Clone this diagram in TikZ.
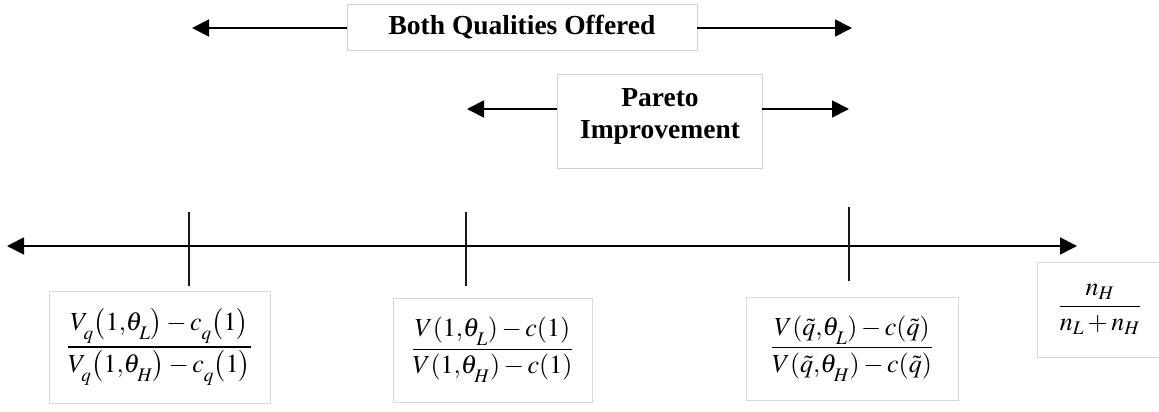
\documentclass[tikz,border=0pt]{standalone}
\usepackage{amsmath}
\usepackage{mathptmx}
\usepackage{fontspec}
\setmainfont{Liberation Serif}
\usetikzlibrary{arrows.meta}
\newcommand{\dn}[1]{_{\raisebox{-5pt}{$\scriptstyle #1$}}}
\begin{document}
\begin{tikzpicture}[x=1pt,y=-1pt,
  lbl/.style={draw=black!18, line width=0.8pt, fill=white, inner sep=0pt,
    font=\fontsize{27.5}{32}\selectfont\bfseries},
  plain/.style={inner sep=0pt, font=\fontsize{27.5}{32}\selectfont\bfseries},
  fbox/.style={draw=black!15, line width=0.8pt, fill=white, inner sep=0pt,
    font=\fontsize{26}{31}\selectfont},
  axis/.style={line width=1.8pt, black},
  tipr/.style={-{Triangle[length=17pt,width=17pt]}},
  tipb/.style={{Triangle[length=17pt,width=17pt]}-{Triangle[length=17pt,width=17pt]}},
  tickmark/.style={line width=1.6pt, black!90}]
\useasboundingbox (0,0) rectangle (1159,412);
% top label
\node[lbl, minimum width=350pt, minimum height=46pt] (both) at (522,27) {Both Qualities Offered};
\coordinate (bothL) at (192,28);
\coordinate (bothR) at (852,28);
\draw[axis,tipr] (both.west |- bothL) -- (bothL);
\draw[axis,tipr] (both.east |- bothR) -- (bothR);
% pareto
\node[lbl, minimum width=205pt, minimum height=94pt] (pareto) at (659.5,121) {};
\node[plain, align=center] (ptext) at (660,116) {Pareto\\Improvement};
\coordinate (parL) at (467,109);
\coordinate (parR) at (849,109);
\draw[axis,tipr] (pareto.west |- parL) -- (parL);
\draw[axis,tipr] (pareto.east |- parR) -- (parR);
% axis
\coordinate (axL) at (7,246);
\coordinate (axR) at (1077,246);
\draw[axis,tipb] (axL) -- (axR);
% ticks
\coordinate (t1a) at (189,212); \coordinate (t1b) at (189,286);
\coordinate (t2a) at (466,212); \coordinate (t2b) at (466,286);
\coordinate (t3a) at (849,207); \coordinate (t3b) at (849,281);
\draw[tickmark] (t1a) -- (t1b);
\draw[tickmark] (t2a) -- (t2b);
\draw[tickmark] (t3a) -- (t3b);
% formula boxes
\node[fbox, minimum width=221pt, minimum height=112pt] (f1) at (159.5,347)
  {$\dfrac{V\dn{q}\bigl(1{,}\theta\dn{L}\bigr)-c\dn{q}\bigl(1\bigr)}{V\dn{q}\bigl(1{,}\theta\dn{H}\bigr)-c\dn{q}\bigl(1\bigr)}$};
\node[fbox, minimum width=199pt, minimum height=104pt] (f2) at (492.5,350)
  {$\dfrac{V(1{,}\theta\dn{L})-c(1)}{V(1{,}\theta\dn{H})-c(1)}$};
\node[fbox, minimum width=212pt, minimum height=103pt] (f3) at (852,348.5)
  {$\dfrac{V(\tilde q{,}\theta\dn{L})-c(\tilde q)}{V(\tilde q{,}\theta\dn{H})-c(\tilde q)}$};
\node[fbox, minimum width=126pt, minimum height=95pt] (f4) at (1100,309.5)
  {$\dfrac{n_H}{n_L+n_H}$};
\end{tikzpicture}
\end{document}
